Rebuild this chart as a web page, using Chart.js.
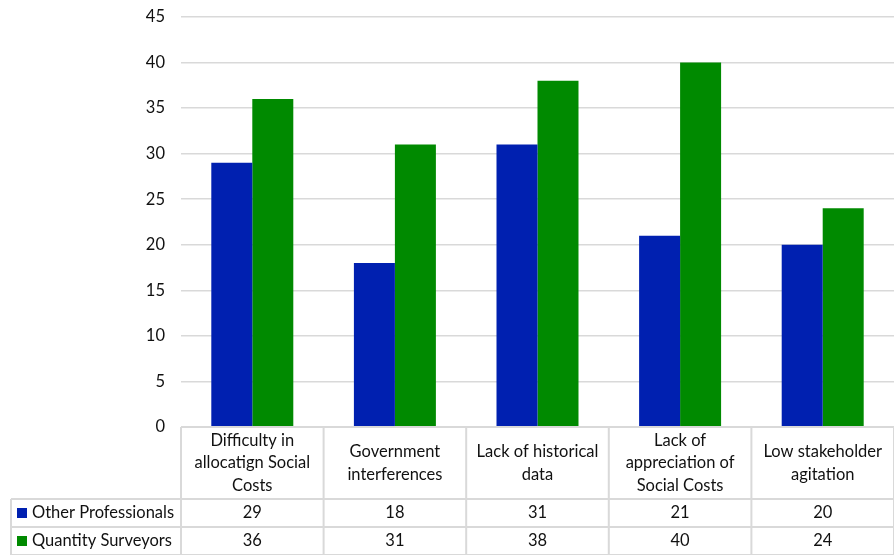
<!DOCTYPE html>
<html>
<head>
<meta charset="utf-8">
<script src="https://cdn.jsdelivr.net/npm/chart.js@4/dist/chart.umd.min.js"></script>
<style>
  html, body { margin: 0; padding: 0; background: #fff; }
  #wrap { width: 894px; height: 555px; }
</style>
</head>
<body>
<div id="wrap"><canvas id="chart" width="894" height="555"></canvas></div>
<script>
const categories = [
    ['Difficulty in', 'allocatign Social', 'Costs'],
    ['Government', 'interferences'],
    ['Lack of historical', 'data'],
    ['Lack of', 'appreciation of', 'Social Costs'],
    ['Low stakeholder', 'agitation']
];
const seriesNames = ['Other Professionals', 'Quantity Surveyors'];
const otherProfessionals = [29, 18, 31, 21, 20];
const quantitySurveyors = [36, 31, 38, 40, 24];
const yMin = 0;
const yMax = 45;
const yStep = 5;

const colors = ['#0020b0', '#008a00'];
const FONT = 'Lato, "Open Sans", sans-serif';
const gridColor = '#d9d9d9';

// data table under the plot: category headers + one row per series
const dataTable = {
    id: 'dataTable',
    afterDraw(chart) {
        const ctx = chart.ctx;
        const area = chart.chartArea;
        const xs = chart.scales.x;
        const colW = (area.right - area.left) / categories.length;
        const top = area.bottom;
        const rowY = [top, 499, 527, 555];
        const leftEdge = 11;

        ctx.save();
        ctx.strokeStyle = gridColor;
        ctx.lineWidth = 2;
        ctx.beginPath();
        ctx.moveTo(area.left, rowY[0]); ctx.lineTo(area.right, rowY[0]);
        for (let r = 1; r < rowY.length; r++) {
            ctx.moveTo(leftEdge, rowY[r]); ctx.lineTo(area.right, rowY[r]);
        }
        for (let i = 0; i <= categories.length; i++) {
            const x = area.left + colW * i;
            ctx.moveTo(x, rowY[0]); ctx.lineTo(x, rowY[3]);
        }
        ctx.moveTo(leftEdge, rowY[1]); ctx.lineTo(leftEdge, rowY[3]);
        ctx.stroke();

        ctx.fillStyle = '#111';
        ctx.font = '16.5px ' + FONT;
        ctx.textAlign = 'center';
        ctx.textBaseline = 'middle';

        // category headers
        const headMid = (rowY[0] + rowY[1]) / 2;
        const lh = 22.5;
        categories.forEach((lines, i) => {
            const cx = xs.getPixelForValue(i);
            const y0 = headMid - (lines.length - 1) * lh / 2;
            lines.forEach((t, k) => ctx.fillText(t, cx, y0 + k * lh));
        });

        // series rows
        const rows = [otherProfessionals, quantitySurveyors];
        rows.forEach((vals, r) => {
            const cy = (rowY[r + 1] + rowY[r + 2]) / 2;
            ctx.textAlign = 'center';
            ctx.fillStyle = '#111';
            vals.forEach((v, i) => ctx.fillText(String(v), xs.getPixelForValue(i), cy));
            ctx.fillStyle = colors[r];
            ctx.fillRect(17, cy - 5, 10, 10);
            ctx.fillStyle = '#111';
            ctx.textAlign = 'left';
            ctx.fillText(seriesNames[r], 32, cy);
        });
        ctx.restore();
    }
};

new Chart(document.getElementById('chart'), {
    type: 'bar',
    data: {
        labels: categories.map(c => c.join(' ')),
        datasets: [
            {
                label: seriesNames[0],
                data: otherProfessionals,
                backgroundColor: colors[0],
                categoryPercentage: 0.575,
                barPercentage: 1
            },
            {
                label: seriesNames[1],
                data: quantitySurveyors,
                backgroundColor: colors[1],
                categoryPercentage: 0.575,
                barPercentage: 1
            }
        ]
    },
    options: {
        responsive: false,
        animation: false,
        layout: { padding: { top: 17, bottom: 128, left: 0, right: 0 } },
        plugins: {
            legend: { display: false },
            tooltip: { enabled: false }
        },
        scales: {
            x: { display: false },
            y: {
                min: yMin,
                max: yMax,
                border: { display: false },
                grid: { color: gridColor, lineWidth: 1.5, drawTicks: false },
                ticks: {
                    stepSize: yStep,
                    padding: 16,
                    color: '#111',
                    font: { family: FONT, size: 16.5 }
                },
                afterFit(scale) {
                    scale.width = 181;
                    scale.paddingTop = 0;
                    scale.paddingBottom = 0;
                }
            }
        }
    },
    plugins: [dataTable]
});
</script>
</body>
</html>
